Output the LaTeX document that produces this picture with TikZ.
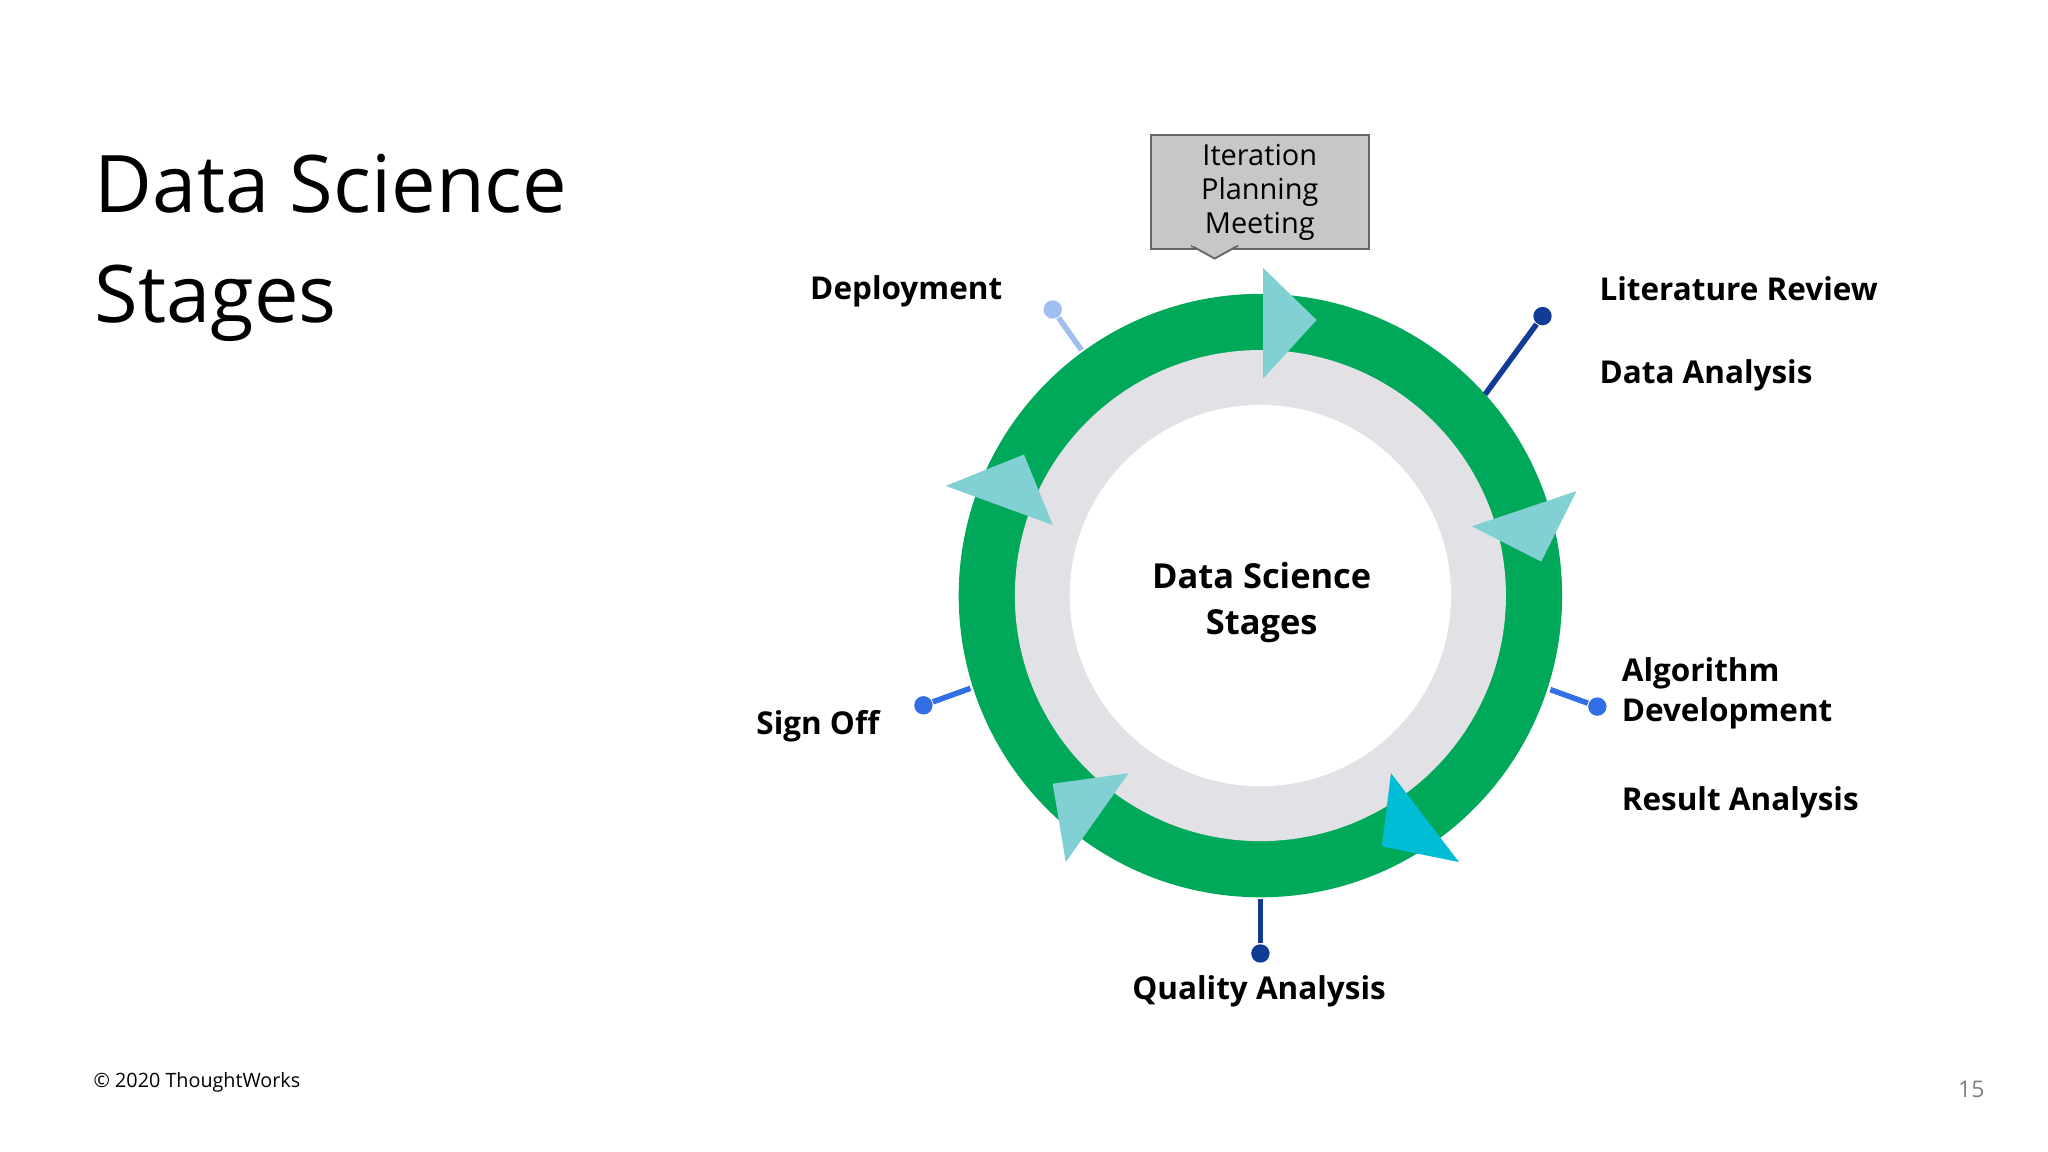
\documentclass[tikz,border=0pt]{standalone}
\usepackage{fontspec}
\setmainfont{Open Sans}
\definecolor{tric}{RGB}{128,208,212}
\definecolor{navy}{RGB}{16,60,150}
\definecolor{bl}{RGB}{50,110,230}
\definecolor{lb}{RGB}{160,190,240}
\begin{document}
\begin{tikzpicture}[x=0.01cm,y=-0.01cm,
 lbl/.style={font=\bfseries\fontsize{6.85}{8.6}\selectfont,anchor=west,align=left,inner sep=0pt},
 tri/.style={fill=tric},
 pin/.style={line width=1.2pt},
 dot/.style={circle,inner sep=0pt,minimum size=4pt}]
\useasboundingbox (0,0) rectangle (1568,882);
\fill[white] (0,0) rectangle (1568,882);
\node[anchor=west,font=\fontsize{17.3}{24}\selectfont,align=left,inner sep=0pt] (title) at (72,190) {Data Science\\Stages};
\node[anchor=west,font=\fontsize{4.3}{5}\selectfont,inner sep=0pt] (copy) at (71,829) {© 2020 ThoughtWorks};
\node[anchor=east,font=\fontsize{5}{6}\selectfont,text=gray,inner sep=0pt] (pg) at (1520,834) {15};
% ring
\coordinate (c) at (965,456);
\fill[fill={rgb,255:red,0;green,168;blue,89}] (c) circle (231);
\fill[fill={rgb,255:red,226;green,226;blue,230}] (c) circle (188);
\fill[white] (c) circle (146);
\node[font=\bfseries\fontsize{7.5}{10}\selectfont,align=center] (center) at (966,461) {Data Science\\Stages};
% triangles
\fill[tri] (967,205) -- (1008,245) -- (967,290) -- cycle;
\fill[tri] (1207,376) -- (1127,403) -- (1180,430) -- cycle;
\fill[fill={rgb,255:red,0;green,188;blue,212}] (1065,592) -- (1117,660) -- (1058,648) -- cycle;
\fill[tri] (864,592) -- (806,600) -- (816,660) -- cycle;
\fill[tri] (724,372) -- (784,348) -- (806,402) -- cycle;
% callout
\node[draw=black!60,fill=black!22,minimum width=167*0.01cm,minimum height=87*0.01cm,align=center,font=\fontsize{6.3}{7.4}\selectfont,inner sep=0pt] (ipm) at (964.5,147) {Iteration\\Planning\\Meeting};
\fill[black!22,draw=black!60] (912,188) -- (930,198) -- (948,188);
\fill[black!22] (913,187) rectangle (947,188.5);
% pins
\node[dot,fill=lb] (d1) at (806,237) {};
\coordinate (e1) at (828,268);
\draw[pin,lb] (d1) -- (e1);
\node[dot,fill=navy] (d2) at (1181,242) {};
\coordinate (e2) at (1137,302);
\draw[pin,navy] (d2) -- (e2);
\node[dot,fill=bl] (d3) at (1223,541) {};
\coordinate (e3) at (1187,528);
\draw[pin,bl] (d3) -- (e3);
\node[dot,fill=navy] (d4) at (965,730) {};
\coordinate (e4) at (965,688);
\draw[pin,navy] (d4) -- (e4);
\node[dot,fill=bl] (d5) at (707,540) {};
\coordinate (e5) at (743,527);
\draw[pin,bl] (d5) -- (e5);
% labels
\node[lbl,anchor=east] (l1) at (768,223) {Deployment};
\node[lbl] (l2) at (1224,221) {Literature Review};
\node[lbl] (l3) at (1224,287) {Data Analysis};
\node[lbl] (l4) at (1241,531) {Algorithm\\Development};
\node[lbl] (l5) at (1241,614) {Result Analysis};
\node[lbl,anchor=center] (l6) at (964,759) {Quality Analysis};
\node[lbl,anchor=east] (l7) at (674,556) {Sign Off};
\end{tikzpicture}
\end{document}
